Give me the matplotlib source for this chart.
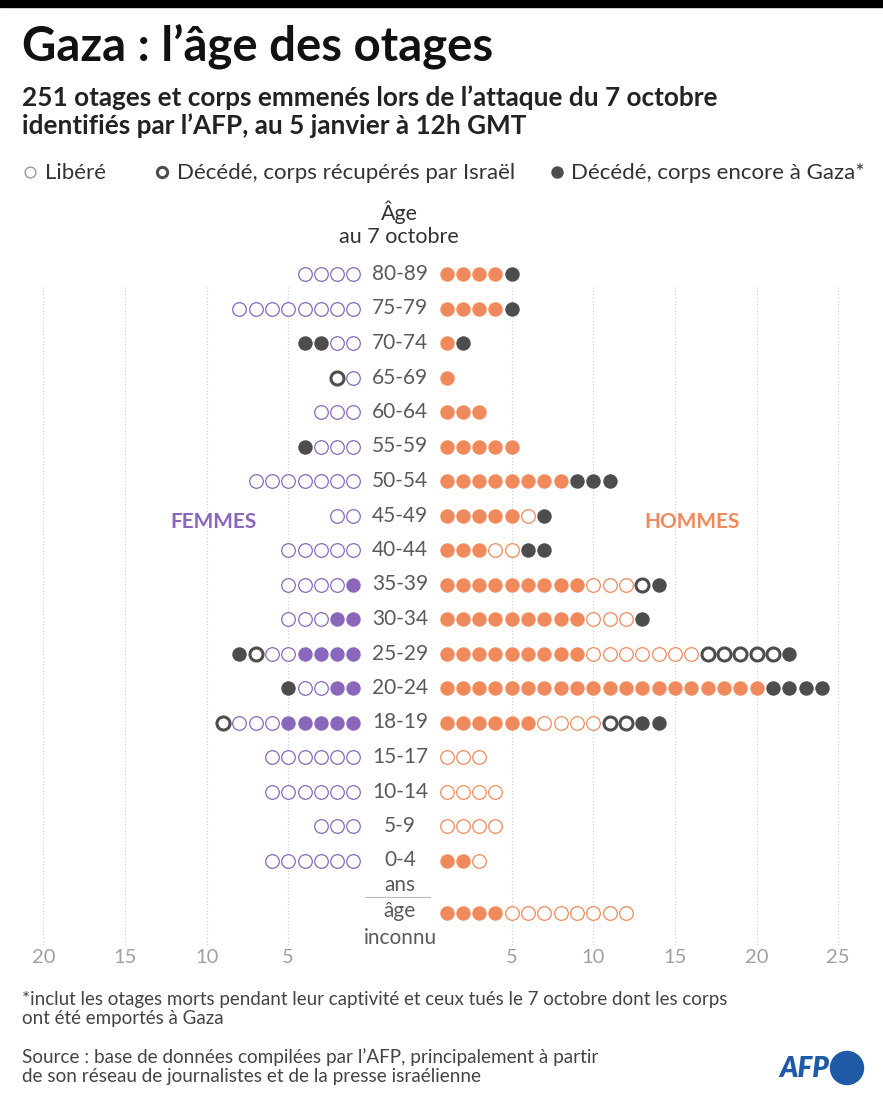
import matplotlib
matplotlib.use('Agg')
import matplotlib.pyplot as plt
from matplotlib.patches import Circle, Rectangle
import numpy as np

plt.rcParams['font.family'] = ['Lato', 'DejaVu Sans']

# Tranches d'âge (du plus âgé au plus jeune)
ages = ['80-89', '75-79', '70-74', '65-69', '60-64', '55-59', '50-54', '45-49',
        '40-44', '35-39', '30-34', '25-29', '20-24', '18-19', '15-17', '10-14',
        '5-9', '0-4', 'âge\ninconnu']

# Femmes : encore otages / libérées / décédées corps récupérés / décédées corps à Gaza
femmes_otages = [0, 0, 0, 0, 0, 0, 0, 0, 0, 1, 2, 4, 2, 5, 0, 0, 0, 0, 0]
femmes_liberees = [4, 8, 2, 1, 3, 3, 7, 2, 5, 4, 3, 2, 2, 3, 6, 6, 3, 6, 0]
femmes_recup = [0, 0, 0, 1, 0, 0, 0, 0, 0, 0, 0, 1, 0, 1, 0, 0, 0, 0, 0]
femmes_gaza = [0, 0, 2, 0, 0, 1, 0, 0, 0, 0, 0, 1, 1, 0, 0, 0, 0, 0, 0]

# Hommes
hommes_otages = [4, 4, 1, 1, 3, 5, 8, 5, 3, 9, 9, 9, 20, 6, 0, 0, 0, 2, 4]
hommes_liberes = [0, 0, 0, 0, 0, 0, 0, 1, 2, 3, 3, 7, 0, 4, 3, 4, 4, 1, 8]
hommes_recup = [0, 0, 0, 0, 0, 0, 0, 0, 0, 1, 0, 5, 0, 2, 0, 0, 0, 0, 0]
hommes_gaza = [1, 1, 1, 0, 0, 0, 3, 1, 2, 1, 1, 1, 4, 2, 0, 0, 0, 0, 0]

ticks_f = [5, 10, 15, 20]
ticks_h = [5, 10, 15, 20, 25]

W, H = 883, 1101
VIOLET = '#8a67bb'
ORANGE = '#f08a5d'
SOMBRE = '#4d4d4d'
GRIS = '#5a5a5a'

fig = plt.figure(figsize=(W / 100, H / 100), dpi=100)
ax = fig.add_axes([0, 0, 1, 1])
px_unit = 16.32
row_h = 34.5
y0 = 274
ax.set_xlim(-400 / px_unit, (W - 400) / px_unit)
ax.set_ylim((H - y0) / row_h, -y0 / row_h)
ax.axis('off')

off = 1.85
rows = np.arange(len(ages), dtype=float)
rows[-1] = 18.52


def fy(py):
    return 1 - py / H


def draw_side(sign, otages, libres, recup, gaza, color):
    for r, a, b, c, d in zip(rows, otages, libres, recup, gaza):
        k = 0
        for n, kind in ((a, 'F'), (b, 'L'), (c, 'R'), (d, 'G')):
            xs = sign * (off + np.arange(k + 1, k + n + 1))
            k += n
            if n == 0:
                continue
            if kind == 'F':
                ax.scatter(xs, [r] * n, s=108, color=color, lw=0, zorder=3)
            elif kind == 'L':
                ax.scatter(xs, [r] * n, s=96, facecolor='white', edgecolor=color, lw=0.9, zorder=3)
            elif kind == 'R':
                ax.scatter(xs, [r] * n, s=88, facecolor='white', edgecolor=SOMBRE, lw=2.2, zorder=3)
            else:
                ax.scatter(xs, [r] * n, s=108, color=SOMBRE, lw=0, zorder=3)


draw_side(-1, femmes_otages, femmes_liberees, femmes_recup, femmes_gaza, VIOLET)
draw_side(1, hommes_otages, hommes_liberes, hommes_recup, hommes_gaza, ORANGE)

# grille et graduations
for t in ticks_f:
    ax.plot([-(off + t)] * 2, [0.38, 19.45], color='#cccccc', lw=0.8, ls=(0, (1, 2)), zorder=1)
    ax.text(-(off + t), 19.8, str(t), ha='center', va='center', fontsize=14.5, color='#a0a0a0')
for t in ticks_h:
    ax.plot([off + t] * 2, [0.38, 19.45], color='#cccccc', lw=0.8, ls=(0, (1, 2)), zorder=1)
    ax.text(off + t, 19.8, str(t), ha='center', va='center', fontsize=14.5, color='#a0a0a0')

for r, lab in zip(rows[:-1], ages[:-1]):
    ax.text(0, r, lab, ha='center', va='center', fontsize=15, color=GRIS)
ax.text(0, rows[-1] + 0.33, ages[-1], ha='center', va='center', fontsize=15, color=GRIS,
        linespacing=1.45)
ax.text(0, 17.72, 'ans', ha='center', va='center', fontsize=15, color=GRIS)
ax.plot([-35 / px_unit, 30 / px_unit], [18.05, 18.05], color='#bbbbbb', lw=0.8)

ax.text(-(400 - 213) / px_unit, 7.2, 'FEMMES', ha='center', va='center', fontsize=15,
        fontweight='bold', color=VIOLET)
ax.text((692 - 400) / px_unit, 7.2, 'HOMMES', ha='center', va='center', fontsize=15,
        fontweight='bold', color=ORANGE)

# titres
fig.add_artist(Rectangle((0, fy(7)), 1, 7 / H, transform=fig.transFigure, color='black'))
fig.text(22 / W, fy(46), 'Gaza : l’âge des otages', fontsize=34, fontweight='bold',
         va='center', ha='left', color='#111111')
fig.text(22 / W, fy(112), '251 otages et corps emmenés lors de l’attaque du 7 octobre\n'
         'identifiés par l’AFP, au 5 janvier à 12h GMT', fontsize=18.8, fontweight='bold',
         va='center', ha='left', color='#222222', linespacing=1.15)

# légende
ax_leg = fig.add_axes([0, 0, 1, 1], facecolor='none')
ax_leg.set_xlim(0, W)
ax_leg.set_ylim(H, 0)
ax_leg.axis('off')
ax_leg.scatter([30], [172], s=60, facecolor='white', edgecolor='#999999', lw=1.0)
ax_leg.scatter([162], [172], s=55, facecolor='white', edgecolor=SOMBRE, lw=2.2)
ax_leg.scatter([557], [172], s=80, color=SOMBRE, lw=0)
ax_leg.text(45, 173, 'Libéré', fontsize=16, va='center', color='#333333')
ax_leg.text(177, 173, 'Décédé, corps récupérés par Israël', fontsize=16, va='center', color='#333333')
ax_leg.text(571, 173, 'Décédé, corps encore à Gaza*', fontsize=16, va='center', color='#333333')

ax_leg.text(399, 212, 'Âge', fontsize=15.5, ha='center', va='center', color='#333333')
ax_leg.text(399, 237, 'au 7 octobre', fontsize=15.5, ha='center', va='center', color='#333333')

# notes
ax_leg.text(22, 1009, '*inclut les otages morts pendant leur captivité et ceux tués le 7 octobre dont les corps\n'
            'ont été emportés à Gaza', fontsize=13.5, va='center', color='#444444', linespacing=1.15)
ax_leg.text(22, 1067, 'Source : base de données compilées par l’AFP, principalement à partir\n'
            'de son réseau de journalistes et de la presse israélienne', fontsize=13.6,
            va='center', color='#444444', linespacing=1.15)

# logo AFP
ax_leg.text(829, 1069, 'AFP', fontsize=20, fontweight='heavy', style='italic', ha='right',
            va='center', color='#1f5aa6')
ax_leg.add_patch(Circle((847, 1068), 16.5, color='#1f5aa6'))

fig.savefig('out.png', dpi=100)
